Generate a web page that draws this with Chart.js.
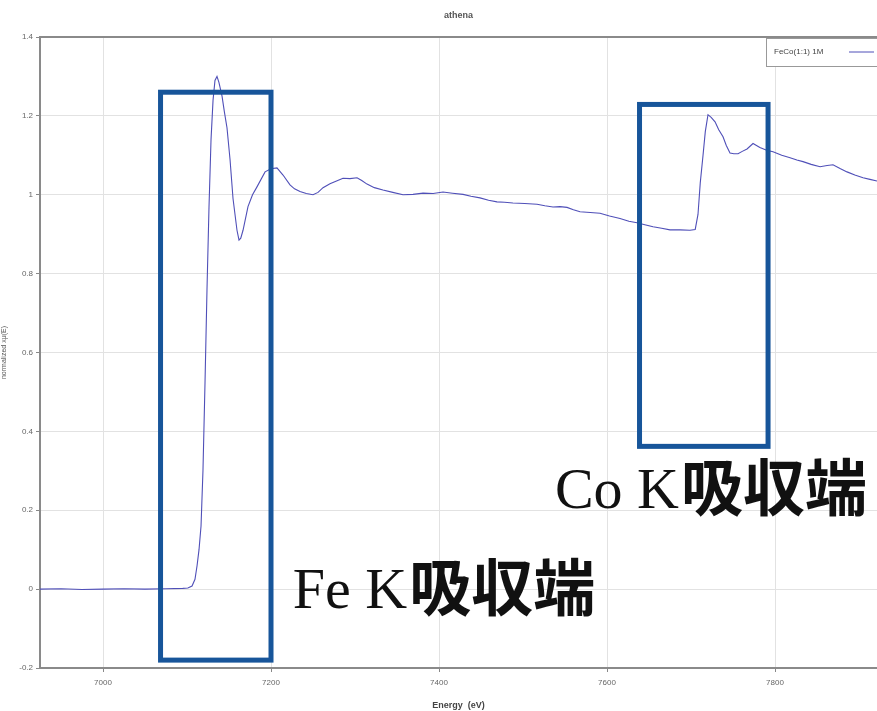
<!DOCTYPE html>
<html>
<head>
<meta charset="utf-8">
<script src="https://cdn.jsdelivr.net/npm/chart.js@4.4.1/dist/chart.umd.min.js"></script>
<style>
html,body{margin:0;padding:0;background:#fff;}
#wrap{width:877px;height:711px;position:relative;}
</style>
</head>
<body>
<div id="wrap"><canvas id="c" width="877" height="711"></canvas></div>
<script>
// ---- data ----
const energy = [6925,6950,6975,7000,7025,7050,7075,7095,7101,7106,7109.5,7112,7114.3,7116.7,7119,7121.4,7123.8,7126.2,7128.6,7131,7133.3,7135.7,7138,7141.7,7144.5,7147.6,7151.2,7154.8,7159.5,7161.9,7164,7166.7,7172.6,7178,7183.3,7192.9,7200,7207.1,7214.3,7222.6,7228,7234.5,7242,7250,7256,7261.9,7270.2,7278,7285.7,7294,7302.4,7308,7314.3,7323,7333.3,7345,7357.1,7369,7381,7393,7404.8,7416,7428.6,7438,7448.8,7459,7469,7478,7488,7502,7516.7,7526,7535.7,7544,7552.4,7560,7567.9,7580,7591.7,7603,7615.5,7626,7635.7,7645,7654.8,7665,7675,7687,7698.8,7705,7708.3,7711,7714.3,7717,7720.2,7724,7728.6,7733,7738.1,7742,7746.4,7751,7756,7761,7766.7,7773.8,7782,7790,7797.6,7808,7817.9,7826,7833.3,7843,7853.6,7862,7869,7878,7885.7,7895,7904.8,7913,7921.4];
const mu = [0.000,0.001,-0.001,0.000,0.001,0.000,0.001,0.002,0.003,0.008,0.025,0.06,0.10,0.16,0.30,0.52,0.76,0.97,1.14,1.24,1.29,1.30,1.285,1.25,1.21,1.17,1.09,0.99,0.91,0.885,0.89,0.91,0.97,1.00,1.02,1.058,1.066,1.068,1.05,1.025,1.015,1.008,1.003,1.000,1.006,1.018,1.028,1.035,1.042,1.041,1.043,1.036,1.027,1.018,1.012,1.006,1.000,1.001,1.004,1.003,1.007,1.004,1.001,0.996,0.992,0.986,0.982,0.981,0.979,0.978,0.976,0.972,0.969,0.970,0.968,0.962,0.957,0.955,0.953,0.946,0.940,0.933,0.929,0.924,0.919,0.915,0.911,0.911,0.910,0.912,0.95,1.03,1.10,1.16,1.203,1.196,1.185,1.165,1.147,1.125,1.106,1.104,1.104,1.110,1.116,1.13,1.12,1.113,1.109,1.10,1.094,1.088,1.084,1.077,1.071,1.074,1.076,1.066,1.058,1.05,1.043,1.039,1.035];
const xTicks = [7000,7200,7400,7600,7800];
const yTicks = [-0.2,0,0.2,0.4,0.6,0.8,1,1.2,1.4];
const yTickLabels = ['-0.2','0','0.2','0.4','0.6','0.8','1','1.2','1.4'];
const seriesLabel = 'FeCo(1:1) 1M';
const chartTitle = 'athena';
const xTitle = 'Energy  (eV)';
const yTitle = 'normalized x\u03bc(E)';
const edgeLabels = [
  {latin:'Fe K', cjk:'吸収端', e:7226, v:-0.048, box:{e0:7068.5, e1:7200, v0:-0.18, v1:1.26}},
  {latin:'Co K', cjk:'吸収端', e:7538, v:0.205, box:{e0:7638.7, e1:7791.7, v0:0.362, v1:1.229}}
];

const points = energy.map((e,i)=>({x:e, y:mu[i]}));

const overlay = {
  id:'overlay',
  afterDraw(chart){
    const ctx = chart.ctx, ca = chart.chartArea;
    const xs = chart.scales.x, ys = chart.scales.y;
    ctx.save();
    // top frame line
    ctx.strokeStyle = '#8a8a8a'; ctx.lineWidth = 2;
    ctx.beginPath(); ctx.moveTo(ca.left, ca.top); ctx.lineTo(ca.right, ca.top); ctx.stroke();
    // title
    ctx.fillStyle = '#555'; ctx.font = 'bold 9px "Liberation Sans"';
    ctx.textAlign = 'center'; ctx.textBaseline = 'middle';
    ctx.fillText(chartTitle, (ca.left+ca.right)/2, 16);
    // legend box
    const lx = 766, ly = ca.top + 1, lw = 120, lh = 28;
    ctx.fillStyle = '#fff'; ctx.fillRect(lx, ly, lw, lh);
    ctx.strokeStyle = '#999'; ctx.lineWidth = 1;
    ctx.strokeRect(lx+0.5, ly+0.5, lw, lh);
    ctx.fillStyle = '#444'; ctx.font = '8px "Liberation Sans"';
    ctx.textAlign = 'left';
    ctx.fillText(seriesLabel, lx+8, ly+lh/2);
    ctx.strokeStyle = chart.data.datasets[0].borderColor; ctx.lineWidth = 1;
    ctx.beginPath(); ctx.moveTo(lx+83, ly+lh/2); ctx.lineTo(lx+108, ly+lh/2); ctx.stroke();
    // edge boxes and labels
    edgeLabels.forEach(a=>{
      const x0 = xs.getPixelForValue(a.box.e0), x1 = xs.getPixelForValue(a.box.e1);
      const y0 = ys.getPixelForValue(a.box.v0), y1 = ys.getPixelForValue(a.box.v1);
      ctx.strokeStyle = '#17559a'; ctx.lineWidth = 5;
      ctx.strokeRect(x0, y1, x1-x0, y0-y1);
      const tx = xs.getPixelForValue(a.e), ty = ys.getPixelForValue(a.v);
      ctx.fillStyle = '#111'; ctx.textAlign = 'left'; ctx.textBaseline = 'alphabetic';
      ctx.font = '58px "Liberation Serif"';
      ctx.fillText(a.latin, tx, ty);
      const w = ctx.measureText(a.latin).width;
      ctx.font = 'bold 62px "Noto Sans CJK JP"';
      ctx.fillText(a.cjk, tx + w + 2, ty + 3);
    });
    ctx.restore();
  }
};

new Chart(document.getElementById('c'), {
  type:'line',
  data:{datasets:[{label:seriesLabel, data:points, borderColor:'#4f4fb8', borderWidth:1.1, pointRadius:0, tension:0, fill:false}]},
  options:{
    responsive:false, animation:false,
    layout:{padding:{top:37,right:0,left:0,bottom:0}},
    plugins:{legend:{display:false}, tooltip:{enabled:false}, title:{display:false}},
    scales:{
      x:{type:'linear', min:6925, max:7921.4,
        afterBuildTicks(s){ s.ticks = xTicks.map(v=>({value:v})); },
        afterFit(s){ s.height = 43; },
        ticks:{callback:(v)=>String(v), color:'#666', font:{size:8, family:'Liberation Sans'}, padding:6, maxRotation:0, autoSkip:false},
        grid:{color:'#e2e2e2', lineWidth:1, tickLength:4, tickColor:'#888'},
        border:{color:'#8a8a8a', width:2},
        title:{display:true, text:xTitle, color:'#444', font:{size:9, family:'Liberation Sans', weight:'bold'}, padding:{top:2,bottom:0}}
      },
      y:{type:'linear', min:-0.2, max:1.4,
        afterBuildTicks(s){ s.ticks = yTicks.map(v=>({value:v})); },
        afterFit(s){ s.width = 40; },
        ticks:{callback:(v)=>{const i=yTicks.findIndex(t=>Math.abs(t-v)<1e-9); return i>=0?yTickLabels[i]:'';}, color:'#666', font:{size:8, family:'Liberation Sans'}, padding:3, autoSkip:false},
        grid:{color:'#e2e2e2', lineWidth:1, tickLength:4, tickColor:'#888'},
        border:{color:'#8a8a8a', width:2},
        title:{display:true, text:yTitle, color:'#555', font:{size:7, family:'Liberation Sans'}, padding:{top:0,bottom:0}}
      }
    }
  },
  plugins:[overlay]
});
</script>
</body>
</html>
